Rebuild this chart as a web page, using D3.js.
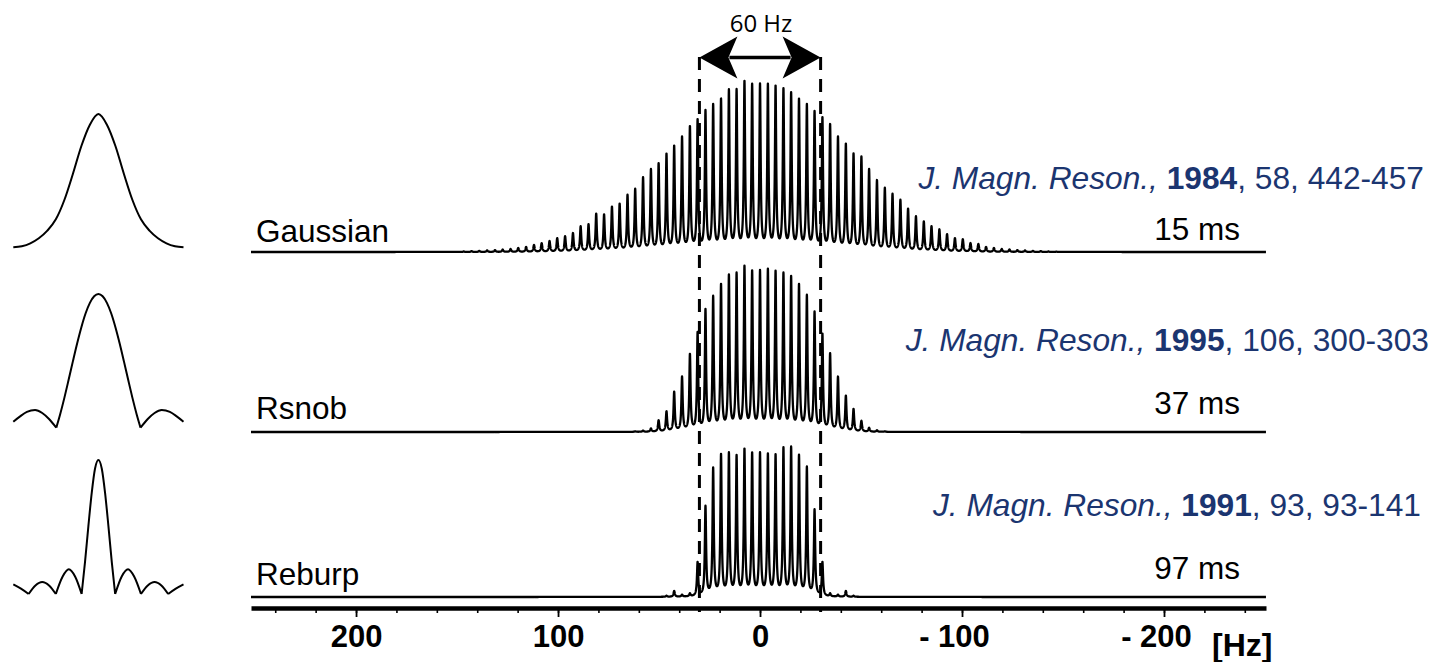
<!DOCTYPE html>
<html>
<head>
<meta charset="utf-8">
<script src="https://cdn.jsdelivr.net/npm/d3@7"></script>
<style>
  html, body { margin: 0; padding: 0; background: #fff; }
  svg { display: block; }
</style>
</head>
<body>
<svg id="chart" width="1431" height="662"></svg>
<script>
// Frequencies of the multiplet lines (Hz), high to low as on an NMR axis
const combHz = [146.7, 142.8, 139.0, 135.1, 131.2, 127.4, 123.5, 119.7, 115.8, 111.9,
  108.1, 104.2, 100.4, 96.5, 92.6, 88.8, 84.9, 81.1, 77.2, 73.3,
  69.5, 65.6, 61.8, 57.9, 54.0, 50.2, 46.3, 42.5, 38.6, 34.7,
  30.9, 27.0, 23.2, 19.3, 15.4, 11.6, 7.7, 3.9, 0,
  -3.9, -7.7, -11.6, -15.4, -19.3, -23.2, -27.0, -30.9, -34.7, -38.6,
  -42.5, -46.3, -50.2, -54.0, -57.9, -61.8, -65.6, -69.5, -73.3, -77.2,
  -81.1, -84.9, -88.8, -92.6, -96.5, -100.4, -104.2, -108.1, -111.9, -115.8,
  -119.7, -123.5, -127.4, -131.2, -135.1, -139.0, -142.8, -146.7];

// Line intensities (relative %) for each selective pulse, aligned with combHz
const gaussianHeights = [0.3, 0.5, 0.6, 0.9, 1.1, 1.4, 1.7, 2.3, 2.9, 4.0,
  5.1, 6.3, 8.0, 9.1, 10.9, 14.9, 16.0, 22.3, 21.7, 26.3,
  28.0, 33.1, 36.6, 43.4, 48.0, 51.4, 57.1, 61.7, 66.9, 73.1,
  77.1, 82.3, 85.7, 89.1, 94.3, 94.3, 99.4, 97.7, 97.7,
  97.7, 96.6, 94.9, 92.6, 89.1, 85.7, 81.7, 78.3, 74.3, 66.9,
  62.9, 57.1, 55.4, 48.0, 41.7, 37.1, 33.7, 30.3, 25.1, 20.6,
  17.7, 14.9, 13.1, 10.3, 8.0, 7.4, 5.1, 4.6, 2.9, 2.3,
  1.7, 1.4, 1.1, 0.9, 0.6, 0.5, 0.3, 0.2];

const rsnobHeights = [0, 0, 0, 0, 0, 0, 0, 0, 0, 0,
  0, 0, 0, 0, 0, 0, 0, 0, 0, 0,
  0, 0, 0.3, 0.7, 1.9, 6.7, 11.8, 23.3, 32.0, 45.3,
  58.1, 71.4, 79.0, 86.1, 91.4, 92.4, 96.7, 93.9, 93.9,
  94.9, 93.7, 92.4, 90.5, 86.1, 79.6, 69.9, 57.1, 45.7, 32.0,
  21.0, 13.3, 6.3, 2.3, 0.9, 0.3, 0, 0, 0, 0,
  0, 0, 0, 0, 0, 0, 0, 0, 0, 0,
  0, 0, 0, 0, 0, 0, 0, 0];

const reburpHeights = [0, 0, 0, 0, 0, 0, 0, 0, 0, 0,
  0, 0, 0, 0, 0, 0, 0, 0, 0, 0,
  0, 0, 0, 0, 0, 0, 0.6, 3.4, 1.1, 1.7,
  20.0, 53.1, 75.4, 83.4, 84.0, 82.3, 86.3, 84.0, 84.0,
  83.4, 82.9, 86.9, 87.4, 82.9, 76.0, 50.9, 20.0, 1.7, 1.1,
  3.4, 0.6, 0, 0, 0, 0, 0, 0, 0, 0,
  0, 0, 0, 0, 0, 0, 0, 0, 0, 0,
  0, 0, 0, 0, 0, 0, 0, 0];

const spectrumNames = ["Gaussian", "Rsnob", "Reburp"];
const pulseLengths = ["15 ms", "37 ms", "97 ms"];
const citations = [
  { year: "1984", rest: ", 58, 442-457" },
  { year: "1995", rest: ", 106, 300-303" },
  { year: "1991", rest: ", 93, 93-141" }
];

// Axis ticks (Hz)
const minorTicks = [240, 220, 200, 180, 160, 140, 120, 100, 80, 60, 40, 20, 0,
  -20, -40, -60, -80, -100, -120, -140, -160, -180, -200, -220, -240];
const majorTicks = [200, 100, 0, -100, -200];
const bandEdges = [30, -30];

// Pulse envelopes: normalised time and |B1| amplitude
const gaussT   = [0, 0.05, 0.10, 0.15, 0.20, 0.25, 0.30, 0.35, 0.40, 0.45, 0.50,
                  0.55, 0.60, 0.65, 0.70, 0.75, 0.80, 0.85, 0.90, 0.95, 1];
const gaussAmp = [0, 0.008, 0.03, 0.068, 0.125, 0.21, 0.355, 0.55, 0.76, 0.92, 1.0,
                  0.92, 0.76, 0.55, 0.355, 0.21, 0.125, 0.068, 0.03, 0.008, 0];

const rsnobT   = [0, 0.04, 0.08, 0.128, 0.17, 0.21, 0.2525,
                  0.275, 0.30, 0.325, 0.35, 0.375, 0.40, 0.425, 0.45, 0.475, 0.5,
                  0.525, 0.55, 0.575, 0.60, 0.625, 0.65, 0.675, 0.70, 0.725, 0.7475,
                  0.79, 0.83, 0.872, 0.92, 0.96, 1];
const rsnobAmp = [0.045, 0.085, 0.118, 0.132, 0.11, 0.065, 0,
                  0.099, 0.223, 0.358, 0.496, 0.630, 0.752, 0.856, 0.934, 0.983, 1.0,
                  0.983, 0.934, 0.856, 0.752, 0.630, 0.496, 0.358, 0.223, 0.099, 0,
                  0.065, 0.11, 0.132, 0.118, 0.085, 0.045];

const reburpT   = [0, 0.045, 0.09, 0.13, 0.17, 0.21, 0.25, 0.29, 0.326, 0.363, 0.4015,
                   0.421, 0.441, 0.461, 0.48, 0.5, 0.52, 0.539, 0.559, 0.579, 0.5985,
                   0.637, 0.674, 0.71, 0.75, 0.79, 0.83, 0.87, 0.91, 0.955, 1];
const reburpAmp = [0.072, 0.04, 0, 0.064, 0.09, 0.064, 0, 0.13, 0.184, 0.13, 0,
                   0.234, 0.505, 0.757, 0.935, 1.0, 0.935, 0.757, 0.505, 0.234, 0,
                   0.13, 0.184, 0.13, 0, 0.064, 0.09, 0.064, 0, 0.04, 0.072];

const svg = d3.select("#chart");
const FONT = "'Liberation Sans', Arial, Helvetica, sans-serif";
const NAVY = "#1b3570";

// Frequency axis
const x = d3.scaleLinear().domain([252, -250.5]).range([251, 1266]);
const axisY = 608;
const baselines = [252, 432, 597];
const yInt = d3.scaleLinear().domain([0, 100]).range([0, 168]);

// Lorentzian line shape sum along the axis
const gamma = 0.37;
function spectrumPoints(heights) {
  const g2 = gamma * gamma;
  const pts = [];
  const [f0, f1] = x.domain();
  const step = 0.04;
  for (let f = f0; f >= f1 - 1e-9; f -= step) {
    let s = 0;
    for (let i = 0; i < combHz.length; i++) {
      const h = heights[i];
      if (h > 0) {
        const d = f - combHz[i];
        s += h * g2 / (d * d + g2);
      }
    }
    pts.push([f, s]);
  }
  return pts;
}

const seriesHeights = [gaussianHeights, rsnobHeights, reburpHeights];
seriesHeights.forEach((hs, i) => {
  const base = baselines[i];
  const line = d3.line()
    .x(d => x(d[0]))
    .y(d => base - yInt(d[1]));
  svg.append("path")
    .attr("d", line(spectrumPoints(hs)))
    .attr("fill", "none")
    .attr("stroke", "#000")
    .attr("stroke-width", 2.3)
    .attr("stroke-linejoin", "round");
});

// Dashed lines marking the excitation band
svg.selectAll("line.band")
  .data(bandEdges)
  .join("line")
  .attr("class", "band")
  .attr("x1", d => x(d)).attr("x2", d => x(d))
  .attr("y1", 57).attr("y2", 612)
  .attr("stroke", "#000")
  .attr("stroke-width", 3)
  .attr("stroke-dasharray", "13,9");

// Double-headed arrow with the band width
const arrowY = 57.5;
const ax0 = x(bandEdges[0]), ax1 = x(bandEdges[1]);
svg.append("line")
  .attr("x1", ax0 + 30).attr("x2", ax1 - 30)
  .attr("y1", arrowY).attr("y2", arrowY)
  .attr("stroke", "#000").attr("stroke-width", 3.5);
function head(tipX, dir) {
  const L = 38, W = 21, N = 29;
  return `M${tipX},${arrowY} L${tipX + dir * L},${arrowY - W} L${tipX + dir * N},${arrowY} L${tipX + dir * L},${arrowY + W} Z`;
}
svg.append("path").attr("d", head(ax0, 1)).attr("fill", "#000");
svg.append("path").attr("d", head(ax1, -1)).attr("fill", "#000");
svg.append("text")
  .attr("x", x(0) + 1).attr("y", 32)
  .attr("text-anchor", "middle")
  .attr("font-family", "'Open Sans', sans-serif")
  .attr("font-size", 24)
  .attr("fill", "#000")
  .text(`${bandEdges[0] - bandEdges[1]} Hz`);

// Bottom axis: minor ticks every 20 Hz, labelled ticks every 100 Hz
const minorAxis = d3.axisBottom(x).tickValues(minorTicks).tickSize(5).tickSizeOuter(0).tickFormat("");
const gMinor = svg.append("g").attr("transform", `translate(0,${axisY})`).call(minorAxis);
gMinor.select(".domain").attr("stroke", "#000").attr("stroke-width", 4.5);
gMinor.selectAll(".tick line").attr("stroke", "#000").attr("stroke-width", 1.6);

const majorAxis = d3.axisBottom(x).tickValues(majorTicks).tickSize(9).tickSizeOuter(0)
  .tickFormat(d => d < 0 ? `- ${-d}` : `${d}`);
const gMajor = svg.append("g").attr("transform", `translate(0,${axisY})`).call(majorAxis);
gMajor.select(".domain").remove();
gMajor.selectAll(".tick line").attr("stroke", "#000").attr("stroke-width", 1.8);
gMajor.selectAll(".tick text")
  .attr("font-family", FONT)
  .attr("font-size", 31)
  .attr("font-weight", "bold")
  .attr("fill", "#000")
  .attr("y", 39)
  .attr("dy", null)
  .attr("dx", d => d < 0 ? -8 : 0);

svg.append("text")
  .attr("x", 1212).attr("y", 656)
  .attr("font-family", FONT).attr("font-size", 32).attr("font-weight", "bold")
  .attr("fill", "#000")
  .text("[Hz]");

// Spectrum names and pulse lengths
const nameY = [242, 419, 585];
const lenY = [240, 414, 579];
const citeY = [189, 351, 516];
const citeRight = [1424, 1429, 1421];
spectrumNames.forEach((name, i) => {
  svg.append("text")
    .attr("x", 256).attr("y", nameY[i])
    .attr("font-family", FONT).attr("font-size", 31.5).attr("fill", "#000")
    .text(name);
  svg.append("text")
    .attr("x", 1240).attr("y", lenY[i])
    .attr("text-anchor", "end")
    .attr("font-family", FONT).attr("font-size", 31.5).attr("fill", "#000")
    .text(pulseLengths[i]);
  const t = svg.append("text")
    .attr("x", citeRight[i]).attr("y", citeY[i])
    .attr("text-anchor", "end")
    .attr("font-family", FONT).attr("font-size", 31.7).attr("fill", NAVY);
  t.append("tspan").attr("font-style", "italic").text("J. Magn. Reson.,");
  t.append("tspan").text(" ");
  t.append("tspan").attr("font-weight", "bold").text(citations[i].year);
  t.append("tspan").text(citations[i].rest);
});

// Pulse envelopes on the left
const px = d3.scaleLinear().domain([0, 1]).range([13.3, 183.5]);
const pulses = [
  { t: gaussT, a: gaussAmp, zero: 247.3, amp: 133.3 },
  { t: rsnobT, a: rsnobAmp, zero: 427.7, amp: 133.7 },
  { t: reburpT, a: reburpAmp, zero: 594, amp: 134 }
];
pulses.forEach(p => {
  const py = d3.scaleLinear().domain([0, 1]).range([p.zero, p.zero - p.amp]);
  const pts = p.t.map((t, i) => [t, p.a[i]]);
  // split into lobes at interior zero crossings so the nodes stay sharp
  const segs = [];
  let cur = [];
  pts.forEach((q, i) => {
    cur.push(q);
    if (q[1] === 0 && i > 0 && i < pts.length - 1) {
      segs.push(cur);
      cur = [q];
    }
  });
  segs.push(cur);
  const line = d3.line().x(d => px(d[0])).y(d => py(d[1])).curve(d3.curveMonotoneX);
  svg.append("path")
    .attr("d", segs.map(s => line(s)).join(""))
    .attr("fill", "none")
    .attr("stroke", "#000")
    .attr("stroke-width", 2)
    .attr("stroke-linejoin", "round");
});
</script>
</body>
</html>
